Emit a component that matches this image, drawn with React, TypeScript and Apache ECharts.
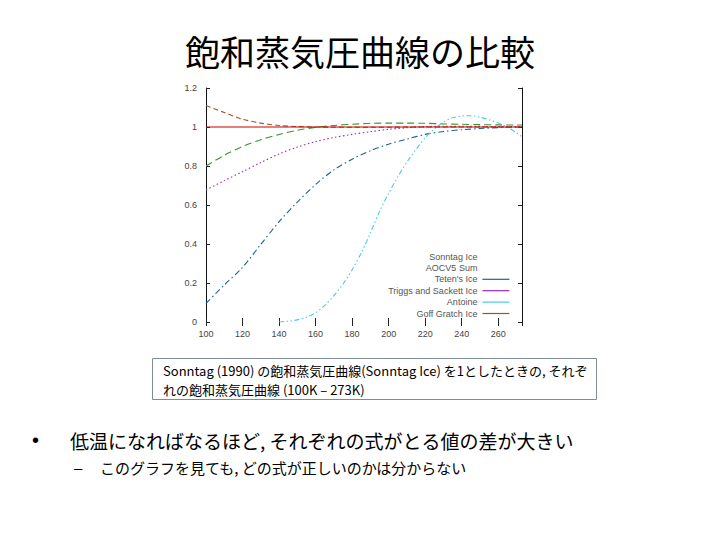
import React, { useEffect, useRef } from "react";
import * as echarts from "echarts";

const seriesNames = [
  "Sonntag Ice",
  "AOCV5 Sum",
  "Teten's Ice",
  "Triggs and Sackett Ice",
  "Antoine",
  "Goff Gratch Ice",
];

const xTicks = [100, 120, 140, 160, 180, 200, 220, 240, 260];
const yTicks = [0, 0.2, 0.4, 0.6, 0.8, 1, 1.2];

const temps = [100, 110, 120, 130, 140, 150, 160, 170, 180, 190, 200, 210, 220, 230, 240, 250, 260, 270, 273];
const sonntag = [1, 1, 1, 1, 1, 1, 1, 1, 1, 1, 1, 1, 1, 1, 1, 1, 1, 1, 1];
const aocv5 = [0.8, 0.855, 0.9, 0.935, 0.962, 0.983, 0.998, 1.008, 1.014, 1.019, 1.02, 1.02, 1.019, 1.016, 1.014, 1.012, 1.011, 1.01, 1.01];
const tetens = [0.096, 0.19, 0.28, 0.398, 0.514, 0.615, 0.705, 0.78, 0.835, 0.878, 0.912, 0.938, 0.962, 0.977, 0.986, 0.992, 0.997, 1.0, 1.0];
const triggs = [0.677, 0.725, 0.771, 0.818, 0.862, 0.897, 0.925, 0.946, 0.962, 0.976, 0.988, 0.996, 1.002, 1.004, 1.004, 1.003, 1.002, 1.001, 1.0];
const goff = [1.11, 1.074, 1.04, 1.02, 1.008, 1.002, 1.0, 0.999, 0.999, 0.999, 0.999, 1.0, 1.0, 1.0, 1.0, 1.0, 1.0, 1.0, 1.0];

const antoineTemps = [140, 145, 150, 155, 160, 165, 170, 175, 180, 185, 190, 195, 200, 205, 210, 215, 220, 225, 230, 235, 240, 245, 250, 255, 260, 265, 270, 273];
const antoine = [0.0, 0.004, 0.011, 0.025, 0.048, 0.085, 0.135, 0.195, 0.268, 0.355, 0.457, 0.567, 0.66, 0.745, 0.82, 0.885, 0.945, 0.99, 1.025, 1.047, 1.056, 1.058, 1.05, 1.037, 1.02, 1.0, 0.97, 0.95];

const titleText = "飽和蒸気圧曲線の比較";
const captionLines = [
  "Sonntag (1990) の飽和蒸気圧曲線(Sonntag Ice) を1としたときの, それぞ",
  "れの飽和蒸気圧曲線 (100K – 273K)",
];
const bulletText = "低温になればなるほど, それぞれの式がとる値の差が大きい";
const subBulletText = "このグラフを見ても, どの式が正しいのかは分からない";

const colors = ["#cc0000", "#2f9a2f", "#22618f", "#9a2ab8", "#45cfd6", "#a5501c"];

const pair = (xs: number[], ys: number[]) => xs.map((x, i) => [x, ys[i]]);

const CJK = "'Noto Sans CJK JP', 'Noto Sans', sans-serif";
const LAT = "'Liberation Sans', Arial, sans-serif";

export default function App() {
  const ref = useRef<HTMLDivElement>(null);
  useEffect(() => {
    if (!ref.current) return;
    const chart = echarts.init(ref.current, undefined, { renderer: "svg" });
    const axisCommonY = {
      type: "value" as const,
      min: yTicks[0],
      max: yTicks[yTicks.length - 1],
      interval: 0.2,
      splitLine: { show: false },
    };
    const axisCommonX = {
      type: "value" as const,
      min: xTicks[0],
      max: 273,
      interval: 20,
      splitLine: { show: false },
    };
    const dashes: any[] = [
      "solid",
      [7, 4],
      [6, 3, 1.5, 3],
      [1.5, 2.5],
      [5, 2.5, 1.5, 2.5, 1.5, 2.5],
      [5, 3],
    ];
    const allData = [
      pair(temps, sonntag),
      pair(temps, aocv5),
      pair(temps, tetens),
      pair(temps, triggs),
      pair(antoineTemps, antoine),
      pair(temps, goff),
    ];
    const series = seriesNames.map((name, i) => ({
      name,
      type: "line",
      data: allData[i],
      symbol: "none",
      smooth: i === 0 ? false : 0.3,
      z: i === 0 ? 10 : 2 + i,
      lineStyle: { color: colors[i], width: 1.1, type: dashes[i] },
      itemStyle: { color: colors[i] },
    }));
    chart.setOption({
      animation: false,
      backgroundColor: "#ffffff",
      grid: { left: 206, right: 198, top: 88, bottom: 218, containLabel: false },
      xAxis: [
        {
          ...axisCommonX,
          position: "bottom",
          axisLine: { show: false },
          axisTick: { show: true, inside: true, length: 4, lineStyle: { color: "#222" } },
          axisLabel: {
            show: true,
            showMaxLabel: false,
            margin: 7,
            fontSize: 9,
            color: "#444",
            fontFamily: LAT,
          },
        },
        {
          ...axisCommonX,
          position: "top",
          axisLine: { show: false },
          axisTick: { show: true, inside: true, length: 4, lineStyle: { color: "#222" } },
          axisLabel: { show: false },
        },
      ],
      yAxis: [
        {
          ...axisCommonY,
          position: "left",
          axisLine: { show: true, lineStyle: { color: "#111", width: 1 } },
          axisTick: { show: true, inside: true, length: 4, lineStyle: { color: "#222" } },
          axisLabel: { margin: 9, fontSize: 9, color: "#444", fontFamily: LAT },
        },
        {
          ...axisCommonY,
          position: "right",
          axisLine: { show: true, lineStyle: { color: "#111", width: 1 } },
          axisTick: { show: true, inside: true, length: 4, lineStyle: { color: "#222" } },
          axisLabel: { show: false },
        },
      ],
      legend: {
        orient: "vertical",
        right: 210,
        top: 252,
        padding: 0,
        align: "right",
        itemWidth: 27,
        itemHeight: 10,
        itemGap: 2.4,
        textStyle: { fontSize: 9, color: "#555", fontFamily: LAT },
        lineStyle: { type: "solid", width: 1.2 },
        itemStyle: { opacity: 0 },
        selectedMode: false,
        data: seriesNames.map((name, i) =>
          i < 2
            ? { name, lineStyle: { opacity: 0 }, itemStyle: { opacity: 0 } }
            : { name }
        ),
      },
      series,
      graphic: [
        {
          type: "text",
          left: "center",
          top: 33,
          style: { text: titleText, fontSize: 35, fill: "#000", fontFamily: CJK },
        },
        {
          type: "rect",
          shape: { x: 152.5, y: 358.5, width: 444, height: 41 },
          style: { fill: "#fff", stroke: "#7e8c9a", lineWidth: 1 },
        },
        {
          type: "text",
          x: 163,
          y: 370,
          style: {
            text: captionLines[0],
            fontSize: 13,
            fill: "#000",
            fontFamily: CJK,
            textVerticalAlign: "middle",
          },
        },
        {
          type: "text",
          x: 163,
          y: 389,
          style: {
            text: captionLines[1],
            fontSize: 13,
            fill: "#000",
            fontFamily: CJK,
            textVerticalAlign: "middle",
          },
        },
        {
          type: "text",
          x: 32,
          y: 440,
          style: { text: "•", fontSize: 20, fill: "#000", fontFamily: LAT, textVerticalAlign: "middle" },
        },
        {
          type: "text",
          x: 70,
          y: 440,
          style: { text: bulletText, fontSize: 19, fill: "#000", fontFamily: CJK, textVerticalAlign: "middle" },
        },
        {
          type: "text",
          x: 74,
          y: 467,
          style: { text: "–", fontSize: 15, fill: "#000", fontFamily: LAT, textVerticalAlign: "middle" },
        },
        {
          type: "text",
          x: 100,
          y: 467,
          style: { text: subBulletText, fontSize: 15, fill: "#000", fontFamily: CJK, textVerticalAlign: "middle" },
        },
      ],
    });
    return () => chart.dispose();
  }, []);
  return (
    <div
      ref={ref}
      style={{ position: "fixed", left: 0, top: 0, width: 720, height: 540, background: "#fff" }}
    />
  );
}
